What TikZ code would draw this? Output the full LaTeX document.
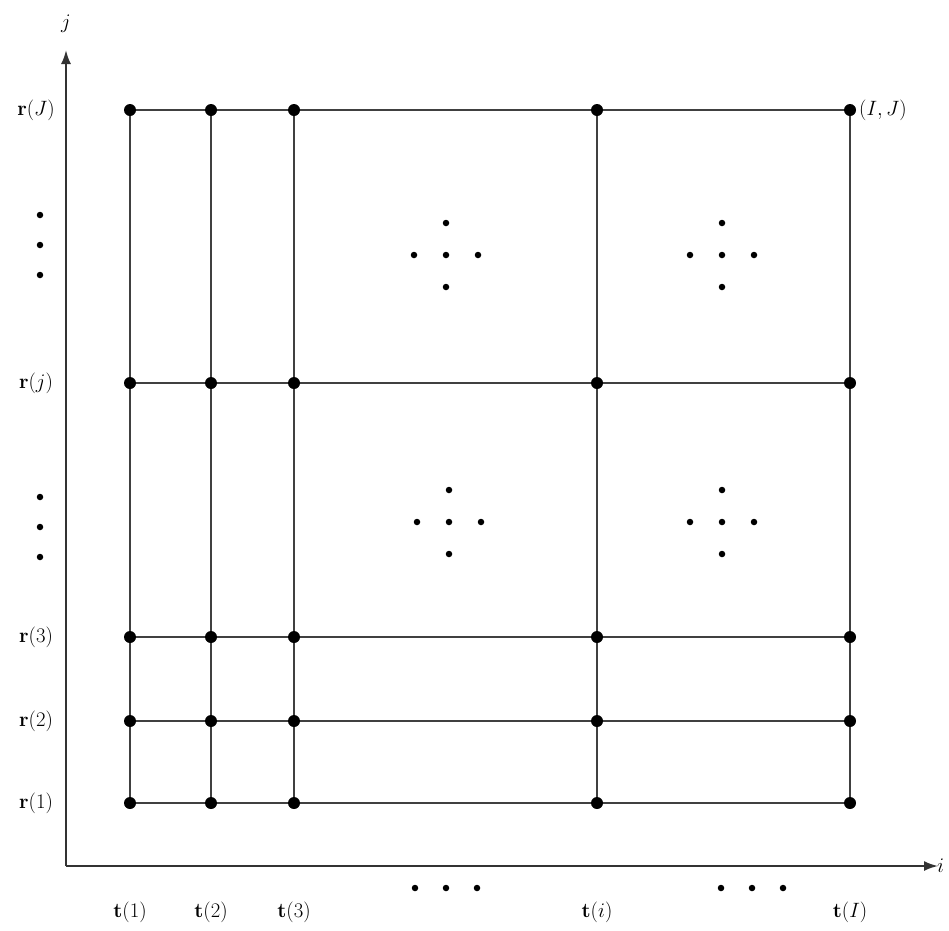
\documentclass[tikz,border=0pt]{standalone}
\usetikzlibrary{arrows.meta}
\begin{document}
\begin{tikzpicture}[x=1pt,y=-1pt,
  gridline/.style={line width=1.4pt,draw=black!75},
  axisline/.style={line width=2pt,draw=black!80,-{Latex[length=14pt,width=10pt]}},
  gdot/.style={circle,fill=black,inner sep=0pt,minimum size=12pt},
  sdot/.style={circle,fill=black,inner sep=0pt,minimum size=6.5pt},
  lab/.style={font=\fontsize{20}{24}\selectfont,inner sep=1pt}]
\useasboundingbox (0,0) rectangle (949,930);
% coordinates of grid points
\foreach \x [count=\c] in {130,211,294,597,850}
  \foreach \y [count=\r] in {803,721,637,383,110}
    \coordinate (p\c-\r) at (\x,\y);
% axes
\coordinate (o) at (66,866);
\coordinate (ytip) at (66,50);
\coordinate (xtip) at (938,866);
\draw[axisline] (o) -- (ytip);
\draw[axisline] (o) -- (xtip);
\node[lab] (jax) at (66,24) {$j$};
\node[lab,anchor=west] (iax) at (936,866) {$i$};
% grid lines
\foreach \r in {1,...,5} \draw[gridline] (p1-\r) -- (p5-\r);
\foreach \c in {1,...,5} \draw[gridline] (p\c-1) -- (p\c-5);
% grid dots
\foreach \c in {1,...,5}
  \foreach \r in {1,...,5}
    \node[gdot] (d\c-\r) at (p\c-\r) {};
% row labels
\node[lab] (r1) at (36,803) {$\mathbf{r}(1)$};
\node[lab] (r2) at (36,721) {$\mathbf{r}(2)$};
\node[lab] (r3) at (36,637) {$\mathbf{r}(3)$};
\node[lab] (rj) at (36,383) {$\mathbf{r}(j)$};
\node[lab] (rJ) at (36,110) {$\mathbf{r}(J)$};
% column labels
\node[lab] (t1) at (130,912) {$\mathbf{t}(1)$};
\node[lab] (t2) at (211,912) {$\mathbf{t}(2)$};
\node[lab] (t3) at (294,912) {$\mathbf{t}(3)$};
\node[lab] (ti) at (597,912) {$\mathbf{t}(i)$};
\node[lab] (tI) at (850,912) {$\mathbf{t}(I)$};
\node[lab,anchor=west] (IJ) at (858,110) {$(I,J)$};
% ellipsis dots on axes
\foreach \y [count=\k] in {215,245,275} \node[sdot] (va\k) at (40,\y) {};
\foreach \y [count=\k] in {497,527,557} \node[sdot] (vb\k) at (40,\y) {};
\foreach \x [count=\k] in {415,446,477} \node[sdot] (ha\k) at (\x,888) {};
\foreach \x [count=\k] in {721,752,783} \node[sdot] (hb\k) at (\x,888) {};
% cross patterns of dots
\foreach \cx/\cy/\n in {446/255/a,722/255/b,449/522/c,722/522/d} {
  \node[sdot] (\n0) at (\cx,\cy) {};
  \node[sdot] (\n1) at ([yshift=-32pt]\n0) {};
  \node[sdot] (\n2) at ([yshift=32pt]\n0) {};
  \node[sdot] (\n3) at ([xshift=-32pt]\n0) {};
  \node[sdot] (\n4) at ([xshift=32pt]\n0) {};
}
\end{tikzpicture}
\end{document}
